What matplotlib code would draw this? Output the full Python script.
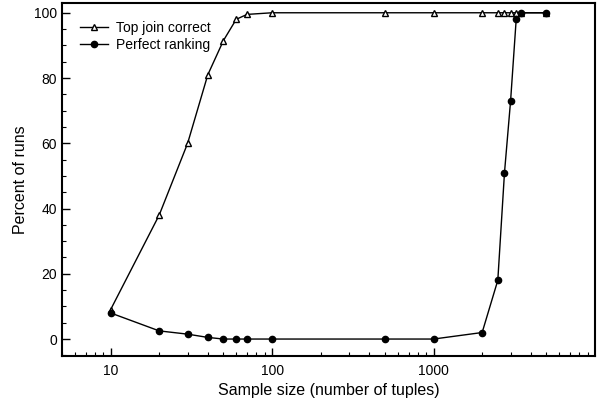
import numpy as np
from matplotlib import pyplot as plt
from matplotlib.ticker import LogLocator, MultipleLocator, FixedLocator

#%% DATA

sample_size = [10, 20, 30, 40, 50, 60, 70, 100, 500, 1000,
               2000, 2500, 2750, 3000, 3250, 3500, 5000]
top_join = [9, 38, 60, 81, 91.5, 98, 99.5, 100, 100, 100,
            100, 100, 100, 100, 100, 100, 100]
perfect_rank = [8, 2.5, 1.5, 0.5, 0, 0, 0, 0, 0, 0,
                2, 18, 51, 73, 98, 100, 100]

#%% PLOT

plt.rcParams['font.family'] = ['Liberation Sans', 'DejaVu Sans']

fig = plt.figure(figsize=(6.0, 4.03), dpi=100)
ax = fig.add_axes([0.1033, 0.1166, 0.8884, 0.876])

ax.plot(sample_size, top_join, color='black', lw=1, marker='^',
        markerfacecolor='white', markeredgecolor='black', markersize=4.5,
        markeredgewidth=1, label='Top join correct')
ax.plot(sample_size, perfect_rank, color='black', lw=1, marker='o',
        markersize=4.5, label='Perfect ranking')

ax.set_xscale('log')
ax.set_xlim(5, 10000)
ax.set_ylim(-5.2, 103)

ax.xaxis.set_major_locator(FixedLocator([10, 100, 1000]))
ax.xaxis.set_major_formatter(plt.FixedFormatter(['10', '100', '1000']))
ax.xaxis.set_minor_locator(LogLocator(base=10, subs=np.arange(2, 10)))
ax.yaxis.set_major_locator(MultipleLocator(20))
ax.yaxis.set_minor_locator(MultipleLocator(5))

ax.tick_params(which='both', direction='in', top=False, right=False,
               labelsize=10)
ax.tick_params(which='major', length=6, width=1)
ax.tick_params(which='minor', length=3, width=0.8)
ax.tick_params(axis='x', which='major', pad=6)

for s in ax.spines.values():
    s.set_linewidth(1.5)

ax.set_xlabel('Sample size (number of tuples)', fontsize=11.5, labelpad=3)
ax.set_ylabel('Percent of runs', fontsize=11.5)

ax.legend(loc='upper left', frameon=False, fontsize=10, handlelength=2,
          borderaxespad=0.9, handletextpad=0.6, labelspacing=0.2)

fig.savefig('out.png', dpi=100)
